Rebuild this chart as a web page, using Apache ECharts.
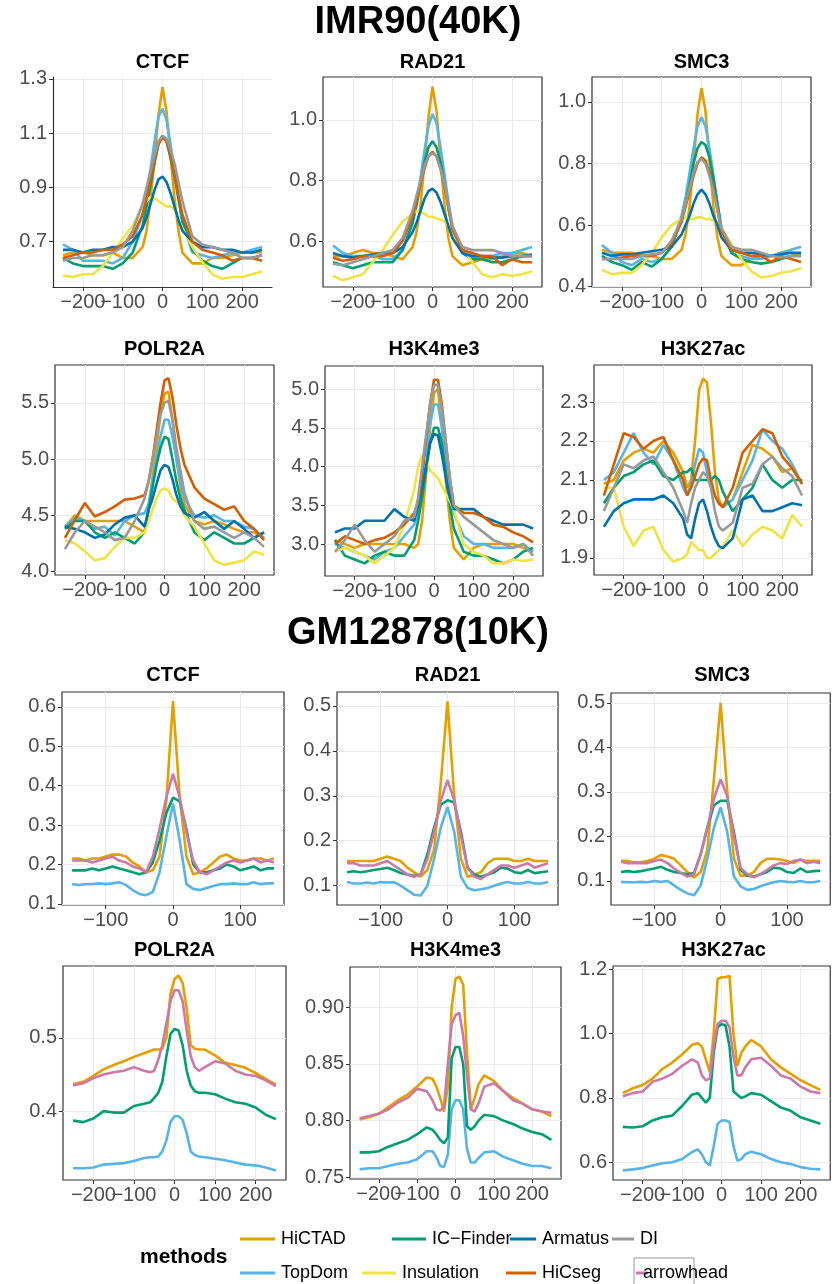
<!DOCTYPE html>
<html><head><meta charset="utf-8">
<script src="https://cdn.jsdelivr.net/npm/echarts@6/dist/echarts.min.js"></script>
<style>html,body{margin:0;padding:0;background:#fff}#c{width:836px;height:1284px}</style>
</head><body><div id="c"></div>
<script>
// ---------- x positions ----------
const xTop = [-250,-225,-200,-175,-150,-125,-100,-75,-50,-40,-30,-20,-10,0,10,20,30,40,50,75,100,125,150,175,200,225,250];
const xGM3 = [-150,-140,-130,-120,-110,-100,-90,-80,-70,-60,-50,-40,-30,-20,-10,0,10,20,30,40,50,60,70,80,90,100,110,120,130,140,150];
const xGM4 = [-250,-225,-200,-175,-150,-125,-100,-75,-60,-50,-40,-30,-20,-10,0,10,20,30,40,50,60,75,100,125,150,175,200,225,250];

// ---------- IMR90 (40K) ----------
const imrCTCF_HiCTAD = [0.65,0.66,0.66,0.65,0.65,0.66,0.64,0.64,0.68,0.74,0.86,1.00,1.17,1.27,1.18,1.02,0.86,0.74,0.66,0.62,0.62,0.64,0.64,0.65,0.66,0.66,0.66];
const imrCTCF_TopDom = [0.69,0.67,0.63,0.63,0.63,0.62,0.64,0.70,0.80,0.88,0.97,1.07,1.16,1.19,1.15,1.06,0.96,0.86,0.77,0.66,0.65,0.64,0.65,0.66,0.66,0.67,0.68];
const imrCTCF_ICFinder = [0.64,0.62,0.61,0.61,0.61,0.60,0.62,0.66,0.76,0.83,0.91,0.99,1.06,1.09,1.07,1.01,0.94,0.86,0.78,0.67,0.63,0.61,0.60,0.62,0.64,0.64,0.65];
const imrCTCF_Insulation = [0.575,0.57,0.58,0.58,0.61,0.66,0.71,0.76,0.83,0.85,0.865,0.86,0.85,0.84,0.83,0.83,0.82,0.78,0.75,0.68,0.625,0.58,0.563,0.57,0.57,0.58,0.59];
const imrCTCF_Armatus = [0.67,0.67,0.66,0.67,0.67,0.68,0.68,0.70,0.75,0.79,0.84,0.89,0.93,0.94,0.92,0.88,0.83,0.78,0.74,0.70,0.68,0.68,0.67,0.67,0.66,0.66,0.67];
const imrCTCF_HiCseg = [0.64,0.65,0.66,0.66,0.67,0.67,0.69,0.72,0.80,0.86,0.93,1.00,1.06,1.085,1.07,1.02,0.95,0.87,0.80,0.70,0.67,0.66,0.65,0.63,0.64,0.64,0.63];
const imrCTCF_DI = [0.63,0.64,0.64,0.65,0.65,0.66,0.68,0.74,0.84,0.90,0.96,1.02,1.07,1.09,1.08,1.04,0.99,0.92,0.85,0.72,0.69,0.68,0.67,0.66,0.64,0.64,0.65];

const imrRAD21_HiCTAD = [0.55,0.55,0.56,0.57,0.56,0.56,0.55,0.54,0.58,0.63,0.72,0.86,1.01,1.11,1.03,0.87,0.72,0.61,0.55,0.52,0.53,0.54,0.54,0.55,0.56,0.56,0.55];
const imrRAD21_TopDom = [0.585,0.56,0.55,0.55,0.55,0.54,0.54,0.57,0.66,0.73,0.81,0.90,0.98,1.02,0.99,0.91,0.82,0.73,0.65,0.57,0.55,0.55,0.55,0.56,0.56,0.57,0.58];
const imrRAD21_ICFinder = [0.53,0.52,0.51,0.52,0.53,0.53,0.53,0.57,0.66,0.72,0.79,0.86,0.91,0.93,0.91,0.86,0.79,0.71,0.64,0.56,0.54,0.54,0.53,0.53,0.54,0.55,0.55];
const imrRAD21_Insulation = [0.485,0.47,0.48,0.49,0.53,0.57,0.62,0.665,0.69,0.70,0.695,0.69,0.68,0.68,0.675,0.67,0.665,0.65,0.62,0.58,0.53,0.49,0.48,0.49,0.485,0.49,0.50];
const imrRAD21_Armatus = [0.56,0.55,0.545,0.55,0.555,0.56,0.56,0.58,0.63,0.66,0.70,0.74,0.765,0.773,0.76,0.73,0.69,0.65,0.61,0.56,0.55,0.55,0.545,0.545,0.55,0.55,0.555];
const imrRAD21_HiCseg = [0.545,0.535,0.54,0.55,0.55,0.55,0.56,0.60,0.68,0.73,0.79,0.84,0.88,0.895,0.88,0.84,0.78,0.71,0.64,0.57,0.56,0.55,0.55,0.52,0.54,0.53,0.53];
const imrRAD21_DI = [0.525,0.52,0.53,0.54,0.55,0.56,0.57,0.61,0.70,0.75,0.80,0.85,0.88,0.89,0.88,0.84,0.79,0.72,0.65,0.58,0.57,0.57,0.57,0.56,0.55,0.55,0.55];

const imrSMC3_HiCTAD = [0.52,0.51,0.51,0.51,0.50,0.50,0.49,0.49,0.52,0.57,0.66,0.80,0.96,1.045,0.97,0.81,0.66,0.56,0.50,0.47,0.47,0.49,0.50,0.50,0.51,0.51,0.50];
const imrSMC3_TopDom = [0.535,0.51,0.48,0.47,0.49,0.48,0.49,0.53,0.63,0.69,0.77,0.85,0.92,0.95,0.92,0.85,0.76,0.67,0.59,0.51,0.50,0.49,0.49,0.50,0.51,0.52,0.53];
const imrSMC3_ICFinder = [0.50,0.48,0.47,0.455,0.48,0.465,0.49,0.53,0.62,0.67,0.73,0.80,0.85,0.87,0.86,0.82,0.75,0.67,0.59,0.51,0.49,0.48,0.475,0.48,0.49,0.50,0.50];
const imrSMC3_Insulation = [0.455,0.44,0.445,0.445,0.47,0.51,0.56,0.60,0.62,0.625,0.62,0.62,0.625,0.625,0.62,0.62,0.615,0.61,0.59,0.54,0.49,0.45,0.43,0.435,0.445,0.45,0.46];
const imrSMC3_Armatus = [0.51,0.50,0.505,0.505,0.51,0.515,0.52,0.53,0.57,0.60,0.63,0.67,0.70,0.715,0.70,0.67,0.63,0.60,0.56,0.52,0.51,0.51,0.505,0.50,0.505,0.51,0.51];
const imrSMC3_HiCseg = [0.49,0.49,0.495,0.50,0.50,0.50,0.51,0.54,0.61,0.66,0.71,0.76,0.80,0.82,0.81,0.77,0.72,0.65,0.58,0.52,0.51,0.50,0.50,0.48,0.50,0.49,0.48];
const imrSMC3_DI = [0.49,0.49,0.49,0.49,0.50,0.505,0.51,0.55,0.62,0.67,0.72,0.77,0.805,0.815,0.80,0.76,0.71,0.65,0.59,0.53,0.52,0.52,0.51,0.50,0.495,0.50,0.50];

const imrPOLR2A_HiCTAD = [4.40,4.50,4.45,4.45,4.45,4.45,4.45,4.40,4.35,4.55,4.85,5.10,5.40,5.58,5.60,5.35,5.00,4.75,4.60,4.45,4.42,4.45,4.42,4.38,4.35,4.35,4.30];
const imrPOLR2A_TopDom = [4.40,4.48,4.45,4.38,4.40,4.32,4.45,4.50,4.52,4.60,4.80,5.00,5.20,5.35,5.35,5.20,5.00,4.80,4.65,4.50,4.48,4.50,4.45,4.45,4.40,4.38,4.30];
const imrPOLR2A_ICFinder = [4.38,4.45,4.45,4.35,4.30,4.35,4.30,4.25,4.35,4.55,4.75,4.95,5.10,5.20,5.18,5.00,4.80,4.65,4.55,4.35,4.28,4.35,4.30,4.25,4.25,4.30,4.35];
const imrPOLR2A_Insulation = [4.28,4.25,4.18,4.10,4.12,4.22,4.30,4.30,4.35,4.45,4.55,4.65,4.72,4.74,4.72,4.65,4.62,4.58,4.50,4.40,4.25,4.10,4.06,4.08,4.10,4.18,4.15];
const imrPOLR2A_Armatus = [4.40,4.38,4.35,4.30,4.33,4.42,4.48,4.50,4.40,4.55,4.65,4.78,4.90,4.95,4.93,4.82,4.68,4.58,4.52,4.48,4.53,4.45,4.38,4.45,4.38,4.30,4.35];
const imrPOLR2A_HiCseg = [4.30,4.46,4.61,4.49,4.53,4.58,4.64,4.65,4.68,4.80,5.00,5.25,5.50,5.70,5.72,5.55,5.30,5.10,4.95,4.75,4.65,4.60,4.55,4.58,4.45,4.38,4.28];
const imrPOLR2A_DI = [4.20,4.35,4.45,4.40,4.35,4.28,4.30,4.45,4.65,4.80,5.00,5.20,5.40,5.50,5.52,5.35,5.10,4.90,4.70,4.45,4.38,4.40,4.35,4.30,4.35,4.30,4.22];

const imrH3K4_HiCTAD = [3.05,3.00,2.95,3.00,3.00,3.00,3.00,3.00,2.95,3.00,3.30,3.90,4.50,4.95,5.00,4.50,3.80,3.30,2.95,2.80,2.95,3.00,3.00,3.00,3.00,2.95,2.90];
const imrH3K4_TopDom = [3.00,2.95,2.90,2.85,2.80,2.90,2.95,3.10,3.25,3.40,3.75,4.15,4.55,4.80,4.80,4.50,4.10,3.70,3.40,3.10,3.00,3.00,2.95,2.95,2.95,3.00,2.90];
const imrH3K4_ICFinder = [3.05,2.85,2.80,2.75,2.85,2.90,2.85,2.85,3.05,3.30,3.60,3.95,4.30,4.50,4.50,4.30,3.90,3.50,3.20,2.90,2.85,2.85,2.80,2.75,2.80,2.90,2.95];
const imrH3K4_Insulation = [2.90,2.95,2.90,2.85,2.75,2.85,2.95,3.25,3.70,4.00,4.15,4.10,3.95,3.90,3.85,3.75,3.65,3.55,3.45,3.00,2.90,2.85,2.75,2.75,2.80,2.78,2.80];
const imrH3K4_Armatus = [3.15,3.20,3.20,3.30,3.30,3.30,3.45,3.35,3.30,3.50,3.75,4.00,4.30,4.42,4.40,4.15,3.85,3.60,3.45,3.45,3.45,3.35,3.30,3.25,3.25,3.25,3.20];
const imrH3K4_HiCseg = [3.00,3.10,3.05,3.00,3.05,3.08,3.15,3.25,3.40,3.55,3.90,4.35,4.80,5.12,5.12,4.80,4.30,3.85,3.50,3.40,3.40,3.35,3.25,3.22,3.15,3.10,3.02];
const imrH3K4_DI = [2.90,3.05,3.25,3.05,2.90,3.00,3.10,3.30,3.35,3.60,4.00,4.40,4.80,5.05,5.05,4.75,4.30,3.85,3.50,3.35,3.25,3.15,3.05,3.00,2.95,3.00,2.85];

const imrH3K27_HiCTAD = [2.09,2.10,2.15,2.17,2.18,2.17,2.20,2.17,2.12,2.08,2.10,2.20,2.33,2.36,2.35,2.25,2.12,2.05,2.03,2.05,2.12,2.19,2.18,2.16,2.12,2.13,2.09];
const imrH3K27_TopDom = [2.10,2.12,2.17,2.22,2.17,2.14,2.19,2.15,2.08,2.06,2.09,2.14,2.18,2.17,2.12,2.09,2.06,2.04,2.03,2.05,2.10,2.15,2.23,2.20,2.18,2.14,2.09];
const imrH3K27_ICFinder = [2.04,2.08,2.11,2.12,2.14,2.15,2.11,2.10,2.12,2.12,2.13,2.10,2.10,2.10,2.10,2.10,2.11,2.10,2.07,2.02,2.05,2.08,2.14,2.10,2.08,2.10,2.10];
const imrH3K27_Insulation = [2.08,2.08,1.98,1.93,1.97,1.98,1.92,1.89,1.90,1.91,1.94,1.93,1.92,1.92,1.90,1.90,1.91,1.92,1.93,1.97,1.93,1.96,1.98,1.97,1.95,2.01,1.98];
const imrH3K27_Armatus = [1.98,2.02,2.04,2.05,2.05,2.05,2.06,2.04,2.00,1.96,1.95,2.00,2.04,2.05,2.02,1.98,1.95,1.93,1.925,1.95,2.05,2.06,2.02,2.02,2.03,2.04,2.035];
const imrH3K27_HiCseg = [2.06,2.14,2.22,2.21,2.18,2.20,2.21,2.15,2.10,2.06,2.08,2.11,2.14,2.155,2.15,2.10,2.06,2.04,2.03,2.08,2.17,2.20,2.23,2.22,2.16,2.13,2.09];
const imrH3K27_DI = [2.02,2.08,2.14,2.13,2.15,2.16,2.12,2.08,2.02,1.99,2.04,2.08,2.10,2.12,2.11,2.08,2.02,1.98,1.97,1.99,2.08,2.09,2.14,2.16,2.13,2.11,2.06];

// ---------- GM12878 (10K) ----------
const gmCTCF_HiCTAD = [0.215,0.215,0.21,0.215,0.215,0.22,0.225,0.225,0.22,0.205,0.195,0.18,0.185,0.22,0.36,0.615,0.37,0.22,0.175,0.18,0.19,0.205,0.22,0.225,0.215,0.21,0.21,0.215,0.215,0.21,0.215];
const gmCTCF_TopDom = [0.15,0.148,0.15,0.15,0.152,0.15,0.152,0.155,0.148,0.135,0.125,0.122,0.13,0.18,0.27,0.355,0.26,0.15,0.138,0.135,0.14,0.145,0.15,0.15,0.152,0.15,0.15,0.155,0.15,0.152,0.152];
const gmCTCF_ICFinder = [0.185,0.185,0.185,0.19,0.185,0.19,0.195,0.19,0.185,0.18,0.175,0.18,0.205,0.26,0.33,0.37,0.36,0.29,0.20,0.18,0.18,0.185,0.19,0.20,0.195,0.185,0.19,0.195,0.185,0.19,0.19];
const gmCTCF_arrowhead = [0.21,0.21,0.21,0.205,0.21,0.215,0.22,0.21,0.205,0.195,0.19,0.18,0.22,0.29,0.37,0.43,0.37,0.28,0.21,0.18,0.175,0.185,0.195,0.205,0.21,0.205,0.21,0.215,0.205,0.21,0.205];

const gmRAD21_HiCTAD = [0.155,0.155,0.155,0.155,0.155,0.16,0.165,0.16,0.155,0.14,0.13,0.12,0.135,0.18,0.33,0.51,0.30,0.16,0.12,0.125,0.13,0.15,0.16,0.16,0.16,0.155,0.155,0.16,0.155,0.155,0.155];
const gmRAD21_TopDom = [0.108,0.105,0.105,0.107,0.105,0.108,0.107,0.108,0.10,0.09,0.08,0.078,0.10,0.16,0.23,0.275,0.22,0.12,0.095,0.09,0.092,0.095,0.10,0.105,0.108,0.105,0.105,0.108,0.105,0.105,0.108];
const gmRAD21_ICFinder = [0.13,0.132,0.13,0.132,0.135,0.137,0.14,0.135,0.128,0.125,0.122,0.125,0.17,0.23,0.28,0.29,0.285,0.22,0.14,0.125,0.12,0.125,0.13,0.14,0.138,0.13,0.128,0.135,0.128,0.13,0.132];
const gmRAD21_arrowhead = [0.15,0.15,0.145,0.145,0.145,0.15,0.155,0.145,0.135,0.125,0.12,0.125,0.16,0.22,0.29,0.335,0.29,0.21,0.14,0.12,0.115,0.125,0.135,0.145,0.145,0.14,0.145,0.15,0.14,0.145,0.15];

const gmSMC3_HiCTAD = [0.145,0.145,0.142,0.142,0.145,0.15,0.158,0.155,0.15,0.135,0.12,0.108,0.12,0.17,0.33,0.50,0.30,0.15,0.112,0.112,0.12,0.14,0.15,0.15,0.148,0.145,0.14,0.148,0.145,0.145,0.145];
const gmSMC3_TopDom = [0.098,0.097,0.097,0.098,0.097,0.10,0.098,0.10,0.09,0.08,0.072,0.068,0.09,0.15,0.22,0.265,0.21,0.11,0.088,0.08,0.082,0.088,0.093,0.097,0.10,0.098,0.097,0.10,0.097,0.097,0.10];
const gmSMC3_ICFinder = [0.12,0.122,0.12,0.122,0.125,0.128,0.132,0.125,0.12,0.118,0.115,0.118,0.16,0.22,0.27,0.28,0.28,0.21,0.125,0.112,0.11,0.115,0.12,0.13,0.128,0.12,0.118,0.128,0.12,0.122,0.123];
const gmSMC3_arrowhead = [0.143,0.14,0.14,0.14,0.14,0.145,0.148,0.14,0.128,0.118,0.11,0.115,0.16,0.22,0.285,0.328,0.29,0.20,0.13,0.115,0.108,0.115,0.125,0.135,0.14,0.138,0.145,0.148,0.14,0.143,0.14];

const gmPOLR2A_HiCTAD = [0.437,0.44,0.448,0.457,0.463,0.468,0.474,0.479,0.482,0.484,0.484,0.485,0.50,0.56,0.58,0.585,0.575,0.54,0.49,0.485,0.484,0.484,0.476,0.466,0.463,0.459,0.452,0.444,0.436];
const gmPOLR2A_TopDom = [0.322,0.322,0.323,0.327,0.328,0.329,0.332,0.336,0.337,0.337,0.338,0.345,0.36,0.385,0.393,0.393,0.388,0.37,0.345,0.34,0.338,0.337,0.335,0.333,0.33,0.327,0.326,0.323,0.319];
const gmPOLR2A_ICFinder = [0.387,0.385,0.39,0.40,0.398,0.398,0.407,0.41,0.412,0.418,0.425,0.44,0.475,0.505,0.512,0.51,0.49,0.455,0.435,0.427,0.425,0.425,0.423,0.417,0.412,0.41,0.405,0.395,0.389];
const gmPOLR2A_arrowhead = [0.435,0.438,0.445,0.45,0.453,0.455,0.46,0.455,0.453,0.455,0.47,0.49,0.52,0.55,0.565,0.565,0.55,0.51,0.475,0.46,0.455,0.46,0.468,0.465,0.455,0.45,0.448,0.442,0.434];

const gmH3K4_HiCTAD = [0.801,0.803,0.806,0.812,0.818,0.823,0.83,0.838,0.837,0.83,0.82,0.808,0.83,0.90,0.925,0.927,0.92,0.86,0.81,0.82,0.832,0.84,0.835,0.826,0.82,0.815,0.81,0.808,0.804];
const gmH3K4_TopDom = [0.757,0.758,0.758,0.76,0.762,0.763,0.766,0.773,0.773,0.768,0.76,0.759,0.77,0.81,0.818,0.818,0.81,0.775,0.763,0.763,0.767,0.772,0.773,0.768,0.765,0.762,0.76,0.76,0.758];
const gmH3K4_ICFinder = [0.772,0.772,0.773,0.777,0.78,0.783,0.788,0.794,0.792,0.788,0.783,0.78,0.785,0.855,0.865,0.865,0.85,0.795,0.792,0.795,0.80,0.805,0.804,0.80,0.797,0.793,0.79,0.788,0.783];
const gmH3K4_arrowhead = [0.802,0.804,0.806,0.81,0.816,0.82,0.828,0.826,0.818,0.81,0.809,0.812,0.85,0.885,0.893,0.895,0.875,0.84,0.81,0.808,0.815,0.83,0.833,0.826,0.818,0.815,0.81,0.808,0.807];

const gmH3K27_HiCTAD = [0.815,0.83,0.84,0.86,0.89,0.91,0.935,0.965,0.97,0.96,0.92,0.88,1.00,1.17,1.175,1.175,1.18,1.00,0.90,0.94,0.96,0.98,0.96,0.92,0.895,0.875,0.855,0.84,0.825];
const gmH3K27_TopDom = [0.575,0.578,0.582,0.59,0.597,0.60,0.61,0.632,0.64,0.625,0.60,0.59,0.65,0.72,0.73,0.73,0.725,0.65,0.605,0.61,0.625,0.633,0.625,0.61,0.60,0.595,0.585,0.58,0.578];
const gmH3K27_ICFinder = [0.71,0.708,0.712,0.73,0.74,0.745,0.775,0.81,0.815,0.80,0.785,0.80,0.94,1.02,1.03,1.025,0.96,0.82,0.81,0.80,0.805,0.815,0.81,0.79,0.77,0.76,0.74,0.73,0.72];
const gmH3K27_arrowhead = [0.805,0.815,0.82,0.85,0.86,0.875,0.90,0.92,0.91,0.87,0.855,0.86,0.96,1.03,1.04,1.04,1.02,0.93,0.87,0.87,0.895,0.92,0.925,0.90,0.87,0.86,0.835,0.82,0.815];

// ---------- tick labels ----------
const xTicksWide = [-200,-100,0,100,200];
const xTicksNarrow = [-100,0,100];
const yT_imrCTCF = [0.7,0.9,1.1,1.3];
const yT_imrRAD21 = [0.6,0.8,1.0];
const yT_imrSMC3 = [0.4,0.6,0.8,1.0];
const yT_imrPOLR2A = [4.0,4.5,5.0,5.5];
const yT_imrH3K4 = [3.0,3.5,4.0,4.5,5.0];
const yT_imrH3K27 = [1.9,2.0,2.1,2.2,2.3];
const yT_gmCTCF = [0.1,0.2,0.3,0.4,0.5,0.6];
const yT_gmRAD21 = [0.1,0.2,0.3,0.4,0.5];
const yT_gmSMC3 = [0.1,0.2,0.3,0.4,0.5];
const yT_gmPOLR2A = [0.4,0.5];
const yT_gmH3K4 = [0.75,0.80,0.85,0.90];
const yT_gmH3K27 = [0.6,0.8,1.0,1.2];

const colors = {'HiCTAD':'#E69F00','TopDom':'#56B4E9','IC\u2212Finder':'#009E73','Insulation':'#F0E442','Armatus':'#0072B2','HiCseg':'#D55E00','DI':'#999999','arrowhead':'#CC79A7'};
const imrMethods = ['HiCTAD','TopDom','IC\u2212Finder','Insulation','Armatus','HiCseg','DI'];
const gmMethods = ['HiCTAD','TopDom','IC\u2212Finder','arrowhead'];

// ---------- panel layout ----------
const panels = [
 {t:'CTCF', x:xTop, m:imrMethods, d:[imrCTCF_HiCTAD,imrCTCF_TopDom,imrCTCF_ICFinder,imrCTCF_Insulation,imrCTCF_Armatus,imrCTCF_HiCseg,imrCTCF_DI], box:[53,77,272,287], xr:[-275,275], xl:xTicksWide, yr:[0.533,1.307], yl:yT_imrCTCF, yg:0.1, dec:1, border:false},
 {t:'RAD21', x:xTop, m:imrMethods, d:[imrRAD21_HiCTAD,imrRAD21_TopDom,imrRAD21_ICFinder,imrRAD21_Insulation,imrRAD21_Armatus,imrRAD21_HiCseg,imrRAD21_DI], box:[323,77,542,287], xr:[-275,275], xl:xTicksWide, yr:[0.448,1.142], yl:yT_imrRAD21, yg:0.1, dec:1, border:true},
 {t:'SMC3', x:xTop, m:imrMethods, d:[imrSMC3_HiCTAD,imrSMC3_TopDom,imrSMC3_ICFinder,imrSMC3_Insulation,imrSMC3_Armatus,imrSMC3_HiCseg,imrSMC3_DI], box:[592,77,811,287], xr:[-275,275], xl:xTicksWide, yr:[0.399,1.081], yl:yT_imrSMC3, yg:0.1, dec:1, border:true},
 {t:'POLR2A', x:xTop, m:imrMethods, d:[imrPOLR2A_HiCTAD,imrPOLR2A_TopDom,imrPOLR2A_ICFinder,imrPOLR2A_Insulation,imrPOLR2A_Armatus,imrPOLR2A_HiCseg,imrPOLR2A_DI], box:[55,365,274,575], xr:[-275,275], xl:xTicksWide, yr:[3.97,5.837], yl:yT_imrPOLR2A, yg:0.25, dec:1, border:true},
 {t:'H3K4me3', x:xTop, m:imrMethods, d:[imrH3K4_HiCTAD,imrH3K4_TopDom,imrH3K4_ICFinder,imrH3K4_Insulation,imrH3K4_Armatus,imrH3K4_HiCseg,imrH3K4_DI], box:[325,366,543,576], xr:[-275,275], xl:xTicksWide, yr:[2.587,5.297], yl:yT_imrH3K4, yg:0.25, dec:1, border:true},
 {t:'H3K27ac', x:xTop, m:imrMethods, d:[imrH3K27_HiCTAD,imrH3K27_TopDom,imrH3K27_ICFinder,imrH3K27_Insulation,imrH3K27_Armatus,imrH3K27_HiCseg,imrH3K27_DI], box:[594,365,812,575], xr:[-275,275], xl:xTicksWide, yr:[1.856,2.395], yl:yT_imrH3K27, yg:0.05, dec:1, border:true},
 {t:'CTCF', x:xGM3, m:gmMethods, d:[gmCTCF_HiCTAD,gmCTCF_TopDom,gmCTCF_ICFinder,gmCTCF_arrowhead], box:[62,692,284,905], xr:[-165,165], xl:xTicksNarrow, yr:[0.097,0.638], yl:yT_gmCTCF, yg:0.05, dec:1, border:true},
 {t:'RAD21', x:xGM3, m:gmMethods, d:[gmRAD21_HiCTAD,gmRAD21_TopDom,gmRAD21_ICFinder,gmRAD21_arrowhead], box:[337,692,558,905], xr:[-165,165], xl:xTicksNarrow, yr:[0.057,0.531], yl:yT_gmRAD21, yg:0.05, dec:1, border:true},
 {t:'SMC3', x:xGM3, m:gmMethods, d:[gmSMC3_HiCTAD,gmSMC3_TopDom,gmSMC3_ICFinder,gmSMC3_arrowhead], box:[611,693,833,905], xr:[-165,165], xl:xTicksNarrow, yr:[0.046,0.522], yl:yT_gmSMC3, yg:0.05, dec:1, border:true},
 {t:'POLR2A', x:xGM4, m:gmMethods, d:[gmPOLR2A_HiCTAD,gmPOLR2A_TopDom,gmPOLR2A_ICFinder,gmPOLR2A_arrowhead], box:[63,966,286,1180], xr:[-275,275], xl:xTicksWide, yr:[0.306,0.598], yl:yT_gmPOLR2A, yg:0.05, dec:1, border:true},
 {t:'H3K4me3', x:xGM4, m:gmMethods, d:[gmH3K4_HiCTAD,gmH3K4_TopDom,gmH3K4_ICFinder,gmH3K4_arrowhead], box:[350,967,561,1179], xr:[-275,275], xl:xTicksWide, yr:[0.7485,0.9355], yl:yT_gmH3K4, yg:0.025, dec:2, border:true},
 {t:'H3K27ac', x:xGM4, m:gmMethods, d:[gmH3K27_HiCTAD,gmH3K27_TopDom,gmH3K27_ICFinder,gmH3K27_arrowhead], box:[613,966,834,1180], xr:[-275,275], xl:xTicksWide, yr:[0.545,1.21], yl:yT_gmH3K27, yg:0.1, dec:1, border:true}
];

const FONT = '"Liberation Sans", Arial, sans-serif';
const grid = [], xAxis = [], yAxis = [], series = [], graphic = [];
const minus = s => String(s).replace('-', '\u2212');
const TXT = (x, y, text, size, bold, align) => ({type:'text', x, y, style:{text, fill:'#000', fontSize:size, fontWeight:bold?'bold':'normal', fontFamily:FONT, align, textAlign:align, verticalAlign:'middle', textVerticalAlign:'middle'}});

panels.forEach((p, i) => {
  const [l, t, r, b] = p.box;
  // blank labels at the axis ends keep the min/max overlap check away from the real labels
  const xLabVals = [p.xr[0]].concat(p.xl, [p.xr[1]]);
  grid.push({left:l, top:t, width:r-l, height:b-t, show:p.border, borderColor:'#333333', borderWidth:1.2, backgroundColor:'rgba(0,0,0,0)', containLabel:false});
  xAxis.push({type:'value', gridIndex:i, min:p.xr[0], max:p.xr[1], interval:50,
    axisLine:{show:!p.border, onZero:false, lineStyle:{color:'#333333', width:1.2}},
    axisTick:{show:true, customValues:p.xl, length:4, lineStyle:{color:'#333333'}},
    axisLabel:{customValues:xLabVals, showMinLabel:true, showMaxLabel:true, hideOverlap:false,
      formatter:v => (p.xl.indexOf(v) >= 0 ? minus(v) : ' '), color:'#4D4D4D', fontSize:20, fontFamily:FONT, margin:5},
    splitLine:{show:true, lineStyle:{color:'#EBEBEB', width:1}}});
  yAxis.push({type:'value', gridIndex:i, min:p.yr[0], max:p.yr[1], interval:p.yg,
    axisLine:{show:!p.border, onZero:false, lineStyle:{color:'#333333', width:1.2}},
    axisTick:{show:true, customValues:p.yl, length:4, lineStyle:{color:'#333333'}},
    axisLabel:{customValues:p.yl, showMinLabel:true, showMaxLabel:true, hideOverlap:false, formatter:v=>Number(v).toFixed(p.dec), color:'#4D4D4D', fontSize:20, fontFamily:FONT, margin:6},
    splitLine:{show:true, lineStyle:{color:'#EBEBEB', width:1}}});
  p.m.forEach((name, k) => {
    series.push({type:'line', name, xAxisIndex:i, yAxisIndex:i, showSymbol:false, symbol:'none', animation:false,
      lineStyle:{color:colors[name], width:2.6}, itemStyle:{color:colors[name]},
      data:p.x.map((xv, j) => [xv, p.d[k][j]])});
  });
  const ty = [62, 62, 62, 349, 349, 349, 675, 675, 675, 950, 950, 950][i];
  graphic.push(TXT((l+r)/2, ty, p.t, 20, true, 'center'));
});

graphic.push(TXT(418, 23, 'IMR90(40K)', 38, true, 'center'));
graphic.push(TXT(418, 634, 'GM12878(10K)', 38, true, 'center'));

// legend
graphic.push(TXT(140, 1257, 'methods', 21, true, 'left'));
const legendOrder = [['HiCTAD','IC\u2212Finder','Armatus','DI'],['TopDom','Insulation','HiCseg','arrowhead']];
const legendKeyX = [[240,392,510,612],[240,362,506,636]];
const legendKeyLen = [[35,34,26,22],[35,34,30,12]];
const legendRowY = [1239, 1273];
legendOrder.forEach((row, ri) => row.forEach((name, ci) => {
  const kx = legendKeyX[ri][ci], ky = legendRowY[ri], kl = legendKeyLen[ri][ci];
  if (name === 'arrowhead') {
    graphic.push({type:'rect', shape:{x:kx-2, y:ky-15, width:60, height:28}, style:{fill:'none', stroke:'#BBBBBB', lineWidth:1.5}});
    graphic.push({type:'line', shape:{x1:kx, y1:ky, x2:kx+kl, y2:ky}, style:{stroke:colors[name], lineWidth:3}});
    graphic.push(TXT(kx+7, ky, name, 18, false, 'left'));
  } else {
    graphic.push({type:'line', shape:{x1:kx, y1:ky, x2:kx+kl, y2:ky}, style:{stroke:colors[name], lineWidth:3}});
    graphic.push(TXT(kx+kl+6, ky, name, 18, false, 'left'));
  }
}));

const chart = echarts.init(document.getElementById('c'), null, {renderer:'canvas', width:836, height:1284});
chart.setOption({animation:false, backgroundColor:'#ffffff', grid, xAxis, yAxis, series, graphic});
</script></body></html>
